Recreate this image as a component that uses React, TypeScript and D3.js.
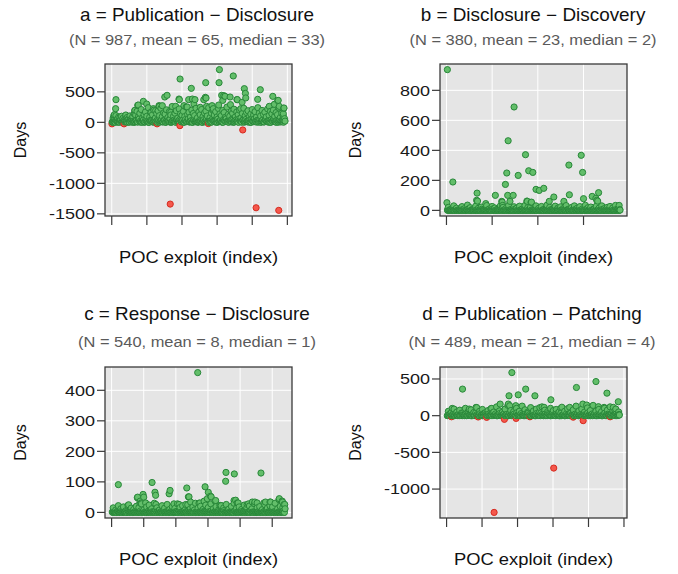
import React from 'react';
import * as d3 from 'd3';

type Pt = [number, number];

// ---------- Panel a : Publication - Disclosure ----------
const aN = 987;
const aTitle = 'a = Publication \u2212 Disclosure';
const aSub = '(N = 987, mean = 65, median = 33)';
const aXTicks = [0, 200, 400, 600, 800, 1000];
const aYTicks = [-1500, -1000, -500, 0, 500];
const aOutliers: Pt[] = [
  [1, -25], [12, 110], [15, 126], [22, 224], [24, 372], [47, 82], [70, -25], [80, 110], [131, 192], [132, 197],
  [148, 279], [151, 284], [180, 344], [199, 300], [222, 164], [237, 224], [250, 192], [258, -25], [269, 273],
  [271, 262], [288, 273], [302, 415], [315, 443], [333, -1340], [336, 164], [364, 262], [383, 382], [385, 372],
  [388, -54], [389, 710], [411, 273], [430, 251], [438, 372], [453, 557], [459, 382], [468, 300], [474, 372],
  [504, 246], [524, 372], [533, 410], [535, 650], [537, 398], [540, 262], [550, -20], [571, 273], [578, 224],
  [609, 284], [611, 650], [613, 864], [626, 443], [632, 360], [638, 437], [645, 426], [674, 415], [676, 290],
  [692, 760], [713, 372], [715, 372], [735, 224], [742, 328], [746, -125], [755, 552], [761, 475], [763, 400],
  [822, -1400], [831, 377], [846, 535], [897, 262], [917, 426], [926, 295], [945, 356], [948, 360], [951, -1443],
  [954, 262], [977, 142], [979, 230], [981, 235], [987, 20],
];
const aBaseStart = 2;
const aBaseStep = 8;
const aBase = [
  5, 0, 12, 25, 2, 8, 35, 1, 16, 6, 28, 0, 10, 38, 4, 18, 1, 26, 7, 40,
  3, 14, 22, 0, 30, 9, 2, 20, 36, 6, 12, 0, 32, 16, 2, 24, 8, 40, 1, 18,
  28, 5, 0, 14, 36, 10, 22, 2, 6, 32, 16, 0, 26, 11, 38, 4, 20, 1, 30, 8,
  24, 0, 15, 40, 3, 18, 7, 34, 12, 0, 22, 5, 28, 10, 37, 2, 16, 25, 6, 0,
  32, 13, 19, 1, 27, 8, 40, 4, 17, 23, 0, 30, 11, 35, 2, 14, 21, 6, 38, 0,
  25, 10, 18, 3, 31, 12, 0, 22, 7, 36, 16, 4, 28, 1, 20, 34, 9, 0, 24, 14,
  6, 18, 2,
];
const aLowStart = 4;
const aLowStep = 8;
const aLow = [
  5, 20, 0, 35, 10, 2, 45, 15, 0, 28, 8, 50, 3, 18, 40, 0, 12, 30, 6, 55,
  22, 1, 38, 9, 60, 14, 0, 33, 25, 4, 48, 11, 0, 36, 19, 52, 7, 27, 2, 44,
  16, 58, 5, 30, 13, 0, 41, 21, 50, 8, 34, 3, 46, 17, 60, 10, 26, 1, 39, 24,
  55, 6, 31, 15, 0, 43, 20, 57, 9, 35, 2, 48, 18, 28, 0, 52, 12, 38, 5, 45,
  23, 60, 7, 32, 14, 50, 1, 27, 40, 10, 56, 19, 3, 36, 25, 47, 8, 30, 0, 44,
  16, 58, 11, 33, 4, 49, 21, 38, 6, 53, 13, 29, 0, 42, 18, 55, 9, 35, 2, 46,
  24, 15, 30,
];
const aMidStart = 8;
const aMidStep = 8;
const aMid = [
  70, 40, 110, 55, 90, 30, 100, 65, 45, 120, 80, 50, 105, 60, 95, 140,
  120, 180, 90, 150, 210, 75, 130, 170, 100, 240, 85, 160, 125, 200, 70, 145, 190, 110, 230, 95,
  155, 135, 205, 80, 175, 120, 260, 100, 150, 190, 70, 220, 140, 115, 180, 95, 250, 130, 165, 85,
  200, 145, 110, 230, 75, 170, 125, 210, 95, 155, 185, 105, 240, 80, 150, 200, 120, 175, 90, 225,
  140, 110, 195, 160, 85, 250, 130, 100, 180, 150, 215, 90, 170, 125, 200, 75, 145, 230, 110, 160,
  190, 95, 135, 210, 120, 175, 85, 240, 150, 105, 195, 130, 165, 90, 220, 115, 180, 140, 200, 100,
  160, 125, 235, 80, 150, 110, 60,
];

// ---------- Panel b : Disclosure - Discovery ----------
const bN = 380;
const bTitle = 'b = Disclosure \u2212 Discovery';
const bSub = '(N = 380, mean = 23, median = 2)';
const bXTicks = [0, 100, 200, 300];
const bYTicks = [0, 200, 400, 600, 800];
const bOutliers: Pt[] = [
  [1, 51], [2, 938], [14, 189], [66, 67], [67, 115], [68, 62], [86, 45], [107, 100], [121, 60], [122, 55],
  [123, 33], [129, 173], [132, 249], [134, 100], [135, 464], [139, 60], [146, 100], [148, 689], [157, 233],
  [173, 371], [176, 62], [177, 60], [180, 264], [185, 53], [186, 55], [189, 253], [196, 140], [203, 133],
  [213, 147], [225, 60], [235, 89], [257, 60], [268, 302], [269, 104], [295, 367], [298, 253], [300, 78],
  [319, 93], [327, 80], [329, 67], [331, 62], [333, 118], [378, 33], [379, 5],
];
const bBaseStart = 3;
const bBaseStep = 3;
const bBase = [
  0, 1, 0, 0, 1, 0, 2, 0, 0, 1, 0, 0, 1, 0, 3, 0, 1, 0, 0, 1,
  0, 2, 0, 0, 1, 0, 0, 1, 0, 0, 2, 0, 1, 0, 0, 1, 0, 0, 3, 0,
  1, 0, 0, 1, 0, 2, 0, 0, 1, 0, 0, 1, 0, 0, 2, 0, 1, 0, 0, 1,
  0, 0, 1, 0, 3, 0, 0, 1, 0, 1, 0, 2, 0, 0, 1, 0, 0, 1, 0, 0,
  2, 0, 1, 0, 0, 1, 0, 0, 2, 0, 1, 0, 0, 1, 0, 3, 0, 1, 0, 0,
  1, 0, 2, 0, 0, 1, 0, 0, 1, 0, 0, 2, 0, 1, 0, 0, 1, 0, 0, 1,
  0, 2, 0, 0, 1, 0,
];
const bLowStart = 2;
const bLowStep = 3;
const bLow = [
  2, 0, 1, 4, 0, 2, 6, 0, 1, 3, 0, 5, 1, 0, 2, 8, 1, 0, 4, 2,
  5, 0, 1, 2, 0, 7, 1, 3, 0, 1, 4, 0, 2, 9, 1, 0, 2, 4, 0, 6,
  1, 2, 0, 1, 5, 0, 3, 1, 0, 7, 2, 0, 4, 2, 1, 0, 5, 1, 0, 3,
  6, 1, 0, 2, 1, 0, 5, 1, 3, 0, 2, 8, 0, 2, 1, 3, 0, 4, 1, 0,
  1, 6, 0, 2, 1, 4, 0, 1, 7, 0, 3, 1, 0, 5, 1, 2, 0, 1, 4, 0,
  1, 6, 0, 3, 1, 0, 2, 9, 1, 0, 4, 1, 0, 6, 1, 2, 0, 4, 1, 0,
  3, 1, 0, 5, 1, 0, 2,
];
const bMidStart = 4;
const bMidStep = 6;
const bMid = [
  20, 8, 30, 15, 5, 25, 12, 35, 18, 6, 28, 14, 22, 4, 32, 10, 26, 16, 8, 30,
  20, 12, 34, 6, 24, 15, 28, 9, 33, 18, 22, 5, 30, 14, 26, 10, 35, 20, 8, 28,
  16, 24, 12, 32, 6, 20, 30, 14, 25, 10, 34, 18, 22, 8, 28, 15, 30, 12, 20, 26,
  16, 33, 10,
];

// ---------- Panel c : Response - Disclosure ----------
const cN = 540;
const cTitle = 'c = Response \u2212 Disclosure';
const cSub = '(N = 540, mean = 8, median = 1)';
const cXTicks = [0, 100, 200, 300, 400, 500];
const cYTicks = [0, 100, 200, 300, 400];
const cOutliers: Pt[] = [
  [21, 91], [51, 23], [80, 48], [81, 50], [88, 31], [89, 37], [92, 31], [98, 59], [100, 50], [106, 31],
  [126, 98], [135, 66], [137, 56], [138, 26], [179, 61], [182, 72], [194, 28], [210, 26], [231, 26],
  [234, 80], [239, 51], [241, 51], [246, 34], [268, 458], [272, 30], [275, 31], [288, 37], [291, 84],
  [298, 45], [301, 66], [308, 53], [310, 51], [322, 37], [324, 39], [337, 23], [340, 23], [355, 102],
  [356, 131], [381, 39], [382, 126], [386, 40], [391, 31], [394, 31], [422, 26], [426, 28], [438, 34],
  [446, 34], [453, 31], [465, 129], [474, 31], [479, 34], [493, 34], [495, 34], [521, 42], [522, 45],
  [531, 37], [532, 34], [537, 26], [539, 26], [540, 12],
];
const cBaseStart = 4;
const cBaseStep = 4;
const cBase = [
  0, 1, 0, 0, 2, 0, 1, 0, 0, 1, 0, 0, 3, 0, 1, 0, 0, 1, 0, 2,
  0, 1, 0, 0, 1, 0, 0, 2, 0, 1, 0, 0, 1, 0, 0, 4, 0, 1, 0, 0,
  1, 0, 2, 0, 0, 1, 0, 0, 1, 0, 3, 0, 1, 0, 0, 1, 0, 2, 0, 0,
  1, 0, 0, 1, 0, 0, 2, 0, 1, 0, 0, 1, 0, 3, 0, 0, 1, 0, 0, 2,
  0, 1, 0, 0, 1, 0, 0, 1, 0, 2, 0, 0, 1, 0, 0, 5, 0, 1, 0, 0,
  1, 0, 2, 0, 0, 1, 0, 0, 1, 0, 0, 2, 0, 1, 0, 0, 1, 0, 3, 0,
  0, 1, 0, 0, 2, 0, 1, 0, 0, 1, 0, 0, 1, 0,
];
const cLowStart = 2;
const cLowStep = 4;
const cLow = [
  1, 0, 2, 0, 4, 1, 0, 3, 0, 1, 2, 0, 6, 1, 0, 2, 0, 1, 3, 0,
  0, 1, 5, 0, 2, 0, 1, 0, 3, 1, 0, 2, 0, 1, 7, 0, 1, 0, 2, 0,
  4, 1, 0, 2, 0, 1, 3, 0, 0, 2, 1, 0, 5, 0, 1, 2, 0, 1, 0, 3,
  0, 1, 2, 0, 8, 0, 1, 0, 2, 1, 0, 3, 0, 1, 0, 2, 0, 5, 1, 0,
  2, 0, 1, 3, 0, 1, 0, 6, 0, 2, 1, 0, 2, 0, 1, 4, 0, 1, 0, 2,
  0, 3, 1, 0, 2, 0, 1, 0, 7, 1, 0, 2, 0, 1, 3, 0, 1, 0, 2, 0,
  5, 1, 0, 2, 0, 1, 0, 3, 1, 0, 2, 0, 1, 4, 0,
];
const cMidStart = 5;
const cMidStep = 8;
const cMid = [
  15, 8, 22, 12, 18, 6, 25, 14, 10, 20, 16, 28, 9, 18, 24, 12, 30, 15, 8, 22,
  14, 26, 10, 19, 13, 28, 16, 22, 9, 25, 12, 18, 30, 14, 20, 10, 24, 16, 28, 12,
  19, 8, 22, 15, 26, 11, 20, 30, 14, 18, 10, 24, 16, 21, 12, 28, 15, 19, 9, 25,
  14, 22, 18, 30, 12, 20, 16,
];

// ---------- Panel d : Publication - Patching ----------
const dN = 489;
const dTitle = 'd = Publication \u2212 Patching';
const dSub = '(N = 489, mean = 21, median = 4)';
const dXTicks = [0, 100, 200, 300, 400, 500];
const dYTicks = [-1000, -500, 0, 500];
const dOutliers: Pt[] = [
  [14, -15], [16, 99], [45, 362], [64, 90], [83, 113], [89, -18], [113, -23], [127, 99], [134, -1318],
  [151, 158], [163, -50], [174, 158], [176, 271], [178, 135], [184, 587], [195, 136], [196, -37], [202, 284],
  [223, 362], [235, -15], [249, 271], [263, 110], [275, 113], [294, 217], [302, -714], [322, 100], [347, 113],
  [357, -20], [366, 384], [384, 158], [385, -68], [395, 145], [421, 465], [428, 122], [444, 113], [452, 307],
  [461, -15], [470, 113], [475, 70], [484, 190], [487, 9],
];
const dBaseStart = 4;
const dBaseStep = 4;
const dBase = [
  2, 0, 5, 1, 0, 3, 8, 0, 1, 4, 0, 6, 2, 0, 3, 10, 1, 0, 5, 2,
  7, 0, 1, 3, 0, 9, 2, 4, 0, 1, 6, 0, 3, 12, 1, 0, 2, 5, 0, 8,
  1, 3, 0, 2, 7, 0, 4, 1, 0, 10, 2, 0, 5, 3, 1, 0, 6, 2, 0, 4,
  9, 1, 0, 3, 2, 0, 7, 1, 5, 0, 2, 11, 0, 3, 1, 4, 0, 6, 2, 0,
  1, 8, 0, 3, 2, 5, 0, 1, 10, 0, 4, 2, 0, 7, 1, 3, 0, 2, 6, 0,
  1, 9, 0, 4, 2, 0, 3, 12, 1, 0, 5, 2, 0, 8, 1, 3, 0, 6, 2, 0,
  4,
];
const dLowStart = 2;
const dLowStep = 4;
const dLow = [
  0, 10, 25, 3, 15, 0, 30, 8, 20, 2, 35, 12, 0, 18, 5, 28, 10, 0, 22, 4,
  38, 14, 1, 26, 8, 0, 32, 16, 3, 20, 0, 12, 36, 6, 24, 0, 15, 30, 2, 10,
  27, 5, 18, 0, 34, 12, 8, 22, 0, 40, 14, 3, 28, 10, 0, 20, 6, 33, 16, 1,
  25, 9, 0, 30, 12, 4, 38, 18, 0, 22, 7, 28, 14, 0, 35, 10, 2, 24, 16, 0,
  31, 6, 19, 0, 27, 11, 3, 36, 15, 0, 21, 8, 30, 2, 17, 0, 26, 12, 5, 38,
  14, 0, 23, 9, 32, 1, 18, 6, 29, 0, 15, 34, 4, 20, 10, 0, 27, 13, 3, 22,
  8, 16,
];
const dMidStart = 5;
const dMidStep = 8;
const dMid = [
  60, 40, 90, 50, 75, 35, 100, 55, 80, 45, 110, 60, 85, 40, 70, 95, 50, 120, 65, 45,
  90, 140, 70, 55, 100, 60, 130, 80, 50, 110, 65, 90, 45, 120, 75, 55, 100, 70, 85, 50,
  115, 60, 95, 40, 80, 130, 65, 90, 50, 105, 70, 140, 60, 85, 55, 100, 75, 120, 65, 90,
  50,
];

// ---------- helpers ----------
function layer(values: number[], start: number, step: number): Pt[] {
  return values.map((v, i) => [start + i * step, v] as Pt);
}
function merge(...sets: Pt[][]): Pt[] {
  const all = ([] as Pt[]).concat(...sets);
  return all.sort((p, q) => p[0] - q[0]);
}

const FONT = '"Liberation Sans", Arial, Helvetica, sans-serif';
const BG = '#E5E5E5';
const FRAME = '#3a3a3a';
const G_FILL = '#63BE6A';
const G_STROKE = '#288739';
const R_FILL = '#F5584C';
const R_STROKE = '#D52B20';

interface PanelDef {
  title: string;
  sub: string;
  n: number;
  pts: Pt[];
  xTicks: number[];
  yTicks: number[];
  box: { l: number; t: number; r: number; b: number };
  titleY: number;
  subY: number;
  xlabY: number;
  daysX: number;
  cx: number;
}

const panels: PanelDef[] = [
  {
    title: aTitle, sub: aSub, n: aN, xTicks: aXTicks, yTicks: aYTicks,
    pts: merge(aOutliers, layer(aBase, aBaseStart, aBaseStep), layer(aLow, aLowStart, aLowStep), layer(aMid, aMidStart, aMidStep)),
    box: { l: 105, t: 64, r: 292, b: 216 }, titleY: 21, subY: 45, xlabY: 263, daysX: 26, cx: 197,
  },
  {
    title: bTitle, sub: bSub, n: bN, xTicks: bXTicks, yTicks: bYTicks,
    pts: merge(bOutliers, layer(bBase, bBaseStart, bBaseStep), layer(bLow, bLowStart, bLowStep), layer(bMid, bMidStart, bMidStep)),
    box: { l: 440, t: 64, r: 627, b: 216 }, titleY: 21, subY: 45, xlabY: 263, daysX: 361, cx: 533,
  },
  {
    title: cTitle, sub: cSub, n: cN, xTicks: cXTicks, yTicks: cYTicks,
    pts: merge(cOutliers, layer(cBase, cBaseStart, cBaseStep), layer(cLow, cLowStart, cLowStep), layer(cMid, cMidStart, cMidStep)),
    box: { l: 105, t: 367, r: 292, b: 518 }, titleY: 320, subY: 347, xlabY: 565, daysX: 26, cx: 197,
  },
  {
    title: dTitle, sub: dSub, n: dN, xTicks: dXTicks, yTicks: dYTicks,
    pts: merge(dOutliers, layer(dBase, dBaseStart, dBaseStep), layer(dLow, dLowStart, dLowStep), layer(dMid, dMidStart, dMidStep)),
    box: { l: 440, t: 367, r: 627, b: 518 }, titleY: 320, subY: 347, xlabY: 565, daysX: 361, cx: 532,
  },
];

function SText(props: {
  x: number; y: number; sx: number; size: number; fill: string; anchor: string; children: React.ReactNode; dy?: string;
}) {
  return (
    <text
      transform={`translate(${props.x},${props.y}) scale(${props.sx},1)`}
      textAnchor={props.anchor}
      fontSize={props.size}
      fill={props.fill}
      fontFamily={FONT}
      dy={props.dy}
    >
      {props.children}
    </text>
  );
}

function Panel({ p }: { p: PanelDef }) {
  const { l, t, r, b } = p.box;
  const xPad = (p.n - 1) * 0.04;
  const x = d3.scaleLinear().domain([1 - xPad, p.n + xPad]).range([l, r]);
  const ext = d3.extent(p.pts, (d) => d[1]) as [number, number];
  const yPad = (ext[1] - ext[0]) * 0.04;
  const y = d3.scaleLinear().domain([ext[0] - yPad, ext[1] + yPad]).range([b, t]);
  const midY = (t + b) / 2;
  return (
    <g>
      <SText x={p.cx} y={p.titleY} sx={1.08} size={17.5} fill="#111" anchor="middle">
        {p.title}
      </SText>
      <SText x={p.cx} y={p.subY} sx={1.06} size={15.5} fill="#5a5a5a" anchor="middle">
        {p.sub}
      </SText>
      <rect x={l} y={t} width={r - l} height={b - t} fill={BG} />
      {p.xTicks.map((v) => (
        <line key={'gx' + v} x1={x(v)} x2={x(v)} y1={t} y2={b} stroke="#fff" strokeWidth={1} />
      ))}
      {p.yTicks.map((v) => (
        <line key={'gy' + v} x1={l} x2={r} y1={y(v)} y2={y(v)} stroke="#fff" strokeWidth={1} />
      ))}
      {p.pts.map((d, i) => (
        <circle
          key={i}
          cx={x(d[0])}
          cy={y(d[1])}
          r={3.1}
          fill={d[1] < 0 ? R_FILL : G_FILL}
          stroke={d[1] < 0 ? R_STROKE : G_STROKE}
          strokeWidth={1}
        />
      ))}
      <rect x={l} y={t} width={r - l} height={b - t} fill="none" stroke={FRAME} strokeWidth={1.3} />
      {p.xTicks.map((v) => (
        <line key={'tx' + v} x1={x(v)} x2={x(v)} y1={b} y2={b + 9} stroke={FRAME} strokeWidth={1.2} />
      ))}
      {p.yTicks.map((v) => (
        <g key={'ty' + v}>
          <line x1={l - 8} x2={l} y1={y(v)} y2={y(v)} stroke={FRAME} strokeWidth={1.2} />
          <SText x={l - 10} y={y(v)} dy="0.36em" sx={1.2} size={15} fill="#1a1a1a" anchor="end">
            {String(v)}
          </SText>
        </g>
      ))}
      <SText x={(l + r) / 2} y={p.xlabY} sx={1.08} size={17} fill="#111" anchor="middle">
        POC exploit (index)
      </SText>
      <text
        transform={`translate(${p.daysX},${midY}) rotate(-90)`}
        textAnchor="middle"
        fontSize={16}
        fill="#111"
        fontFamily={FONT}
      >
        Days
      </text>
    </g>
  );
}

export default function App() {
  return (
    <svg
      width={678}
      height={574}
      style={{ position: 'absolute', left: 0, top: 0, background: '#fff' }}
      xmlns="http://www.w3.org/2000/svg"
    >
      <rect x={0} y={0} width={678} height={574} fill="#fff" />
      {panels.map((p, i) => (
        <Panel key={i} p={p} />
      ))}
    </svg>
  );
}
